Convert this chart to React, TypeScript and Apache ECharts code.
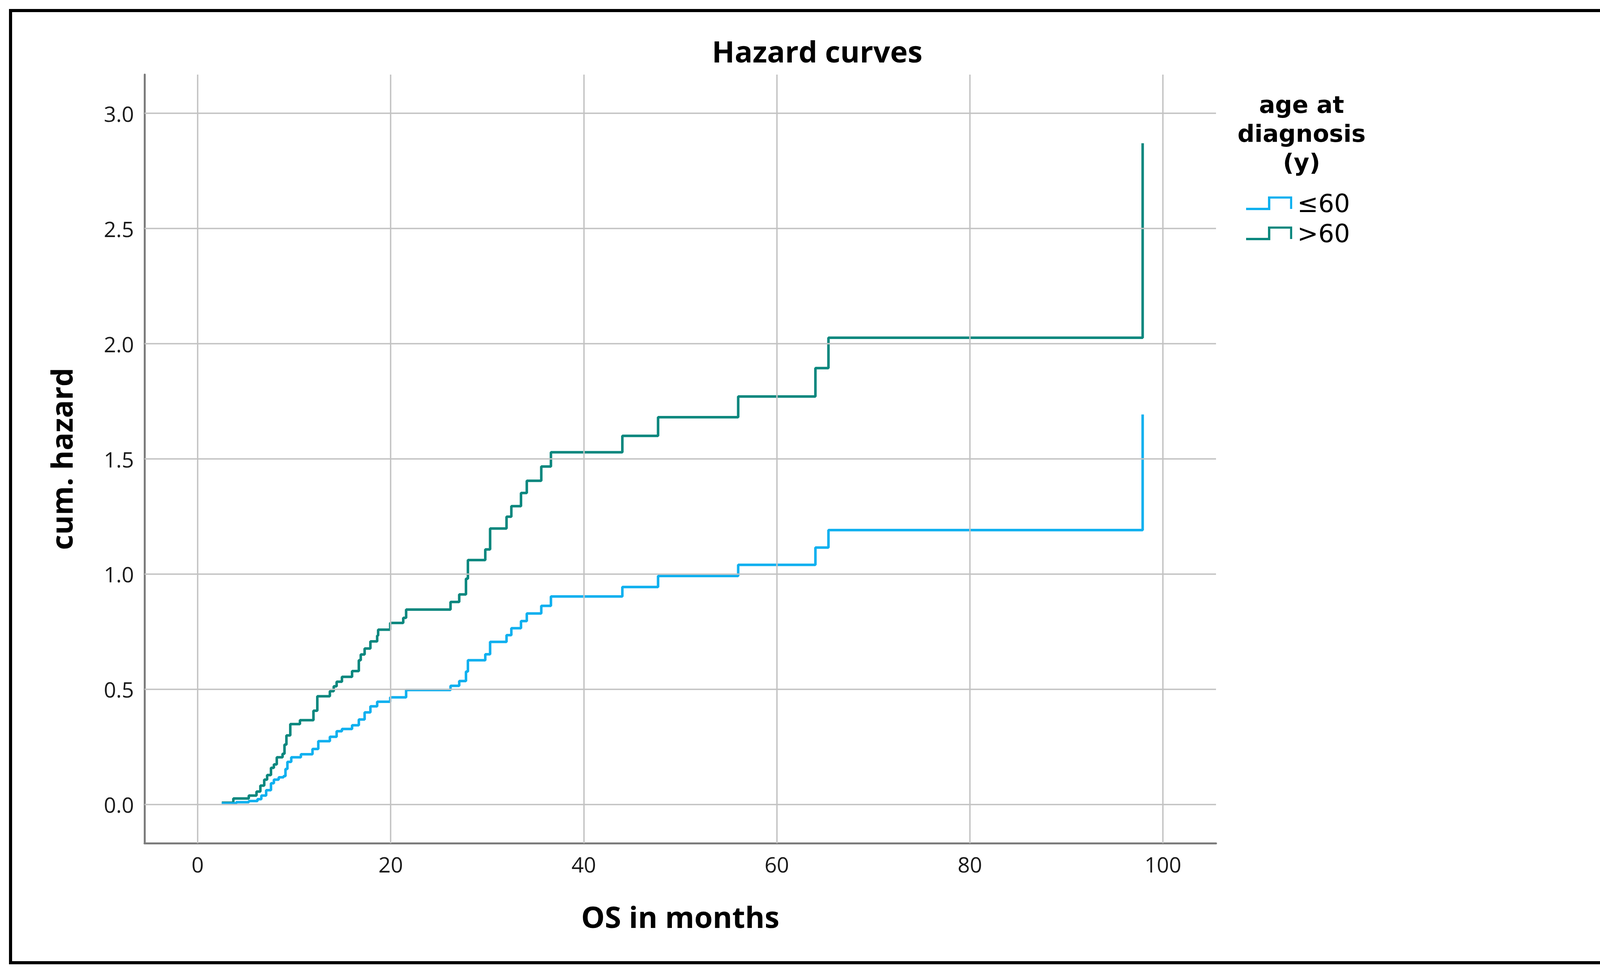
import React, { useEffect, useRef } from "react";
import * as echarts from "echarts";

// ---- data ----
const youngTimes = [2.5, 4.0, 5.3, 6.2, 6.6, 7.1, 7.6, 7.9, 8.4, 8.9, 9.1, 9.3, 9.7, 10.7, 11.9, 12.5, 13.7, 14.4, 14.95, 16.0, 16.7, 17.3, 17.9, 18.6, 19.95, 21.6, 26.2, 27.1, 27.8, 28.0, 29.8, 30.3, 32.0, 32.5, 33.5, 34.1, 35.6, 36.6, 44.0, 47.7, 56.0, 64.0, 65.35, 97.9];
const youngHazard = [0.005, 0.01, 0.015, 0.023, 0.039, 0.062, 0.092, 0.108, 0.118, 0.123, 0.154, 0.185, 0.205, 0.218, 0.241, 0.275, 0.294, 0.318, 0.328, 0.344, 0.369, 0.4, 0.426, 0.446, 0.465, 0.497, 0.515, 0.536, 0.577, 0.626, 0.652, 0.706, 0.735, 0.765, 0.796, 0.829, 0.862, 0.903, 0.944, 0.992, 1.04, 1.115, 1.191, 1.693];

const oldTimes = [2.5, 3.7, 5.3, 6.1, 6.5, 6.9, 7.2, 7.6, 7.9, 8.2, 8.8, 9.0, 9.2, 9.6, 10.6, 12.0, 12.4, 13.7, 14.1, 14.4, 14.95, 16.0, 16.7, 16.9, 17.3, 17.9, 18.6, 18.7, 19.95, 21.3, 21.6, 26.2, 27.1, 27.8, 28.0, 29.8, 30.3, 32.0, 32.5, 33.5, 34.1, 35.6, 36.6, 44.0, 47.7, 56.0, 64.0, 65.35, 97.9];
const oldHazard = [0.008, 0.026, 0.039, 0.056, 0.082, 0.108, 0.128, 0.159, 0.174, 0.205, 0.22, 0.26, 0.3, 0.349, 0.366, 0.407, 0.47, 0.492, 0.513, 0.533, 0.554, 0.579, 0.626, 0.651, 0.677, 0.708, 0.733, 0.759, 0.788, 0.81, 0.846, 0.879, 0.912, 0.98, 1.061, 1.107, 1.198, 1.249, 1.295, 1.352, 1.405, 1.467, 1.529, 1.6, 1.681, 1.771, 1.894, 2.026, 2.87];

const groupNames = ["≤60", ">60"];
const xTicks = [0, 20, 40, 60, 80, 100];
const yTicks = [0, 0.5, 1.0, 1.5, 2.0, 2.5, 3.0];

const COLOR_YOUNG = "#0fb0ef";
const COLOR_OLD = "#0a877e";
const FONT = "Open Sans";
const LEGEND_FONT = "DejaVu Sans";

const zip = (xs: number[], ys: number[]) => xs.map((x, i) => [x, ys[i]]);

// legend icon: step shape outline (filled thin polygon)
const STEP_ICON =
  "path://M0,29 L56,29 L56,0 L118,0 L118,32 L112.5,32 L112.5,5.5 L62,5.5 L62,35 L0,35 Z";

export default function App() {
  const ref = useRef<HTMLDivElement>(null);

  useEffect(() => {
    if (!ref.current) return;
    const chart = echarts.init(ref.current, null, { renderer: "svg" });

    const gridLines = [
      ...xTicks.map((v) => ({ xAxis: v })),
      ...yTicks.map((v) => ({ yAxis: v })),
    ];

    const option: any = {
      animation: false,
      backgroundColor: "#ffffff",
      textStyle: { fontFamily: FONT },
      title: [
        {
          text: "Hazard curves",
          left: 2092,
          top: 92,
          padding: 0,
          textAlign: "center",
          textStyle: {
            fontFamily: FONT,
            fontWeight: "bold",
            fontSize: 76,
            lineHeight: 76,
            color: "#000",
          },
        },
        {
          text: "age at\ndiagnosis\n(y)",
          left: 3332,
          top: 230,
          padding: 0,
          textAlign: "center",
          textStyle: {
            fontFamily: LEGEND_FONT,
            fontWeight: "bold",
            fontSize: 61,
            lineHeight: 74,
            color: "#000",
          },
        },
      ],
      legend: {
        orient: "vertical",
        left: 3190,
        top: 484,
        padding: 0,
        itemGap: 4,
        itemWidth: 118,
        itemHeight: 35,
        icon: STEP_ICON,
        data: groupNames,
        textStyle: {
          fontFamily: LEGEND_FONT,
          fontSize: 64,
          lineHeight: 73,
          color: "#000",
          padding: [0, 0, 0, 8],
        },
      },
      grid: {
        left: 370,
        top: 191,
        width: 2743,
        height: 1968,
        containLabel: false,
      },
      xAxis: {
        type: "value",
        min: -5.5,
        max: 105.5,
        name: "OS in months",
        nameLocation: "middle",
        nameGap: 149,
        nameTextStyle: {
          fontFamily: FONT,
          fontWeight: "bold",
          fontSize: 76,
          lineHeight: 76,
          color: "#000",
        },
        axisLine: { show: true, onZero: false, lineStyle: { color: "#7c7c7c", width: 5 } },
        axisTick: { show: false },
        splitLine: { show: false },
        axisLabel: {
          customValues: xTicks,
          margin: 26,
          fontFamily: FONT,
          fontSize: 55,
          color: "#1a1a1a",
        },
      },
      yAxis: {
        type: "value",
        min: -0.168,
        max: 3.168,
        name: "cum. hazard",
        nameLocation: "middle",
        nameRotate: 90,
        nameGap: 176,
        nameTextStyle: {
          fontFamily: FONT,
          fontWeight: "bold",
          fontSize: 76,
          lineHeight: 76,
          color: "#000",
        },
        axisLine: { show: true, onZero: false, lineStyle: { color: "#7c7c7c", width: 5 } },
        axisTick: { show: false },
        splitLine: { show: false },
        axisLabel: {
          customValues: yTicks,
          margin: 27,
          fontFamily: FONT,
          fontSize: 55,
          color: "#1a1a1a",
          formatter: (v: number) => v.toFixed(1),
        },
      },
      graphic: [
        {
          type: "rect",
          shape: { x: 27, y: 27, width: 4121, height: 2438 },
          style: { fill: "none", stroke: "#000", lineWidth: 8 },
          silent: true,
          z: 100,
        },
      ],
      series: [
        {
          name: "grid",
          type: "line",
          data: [],
          silent: true,
          z: 1,
          markLine: {
            silent: true,
            symbol: ["none", "none"],
            label: { show: false },
            lineStyle: { color: "#c2c2c2", width: 3.5, type: "solid" },
            emphasis: { disabled: true },
            data: gridLines,
          },
        },
        {
          name: groupNames[1],
          type: "line",
          step: "end",
          showSymbol: false,
          symbol: "none",
          z: 3,
          color: COLOR_OLD,
          lineStyle: { color: COLOR_OLD, width: 6.5 },
          data: zip(oldTimes, oldHazard),
        },
        {
          name: groupNames[0],
          type: "line",
          step: "end",
          showSymbol: false,
          symbol: "none",
          z: 4,
          color: COLOR_YOUNG,
          lineStyle: { color: COLOR_YOUNG, width: 6.5 },
          data: zip(youngTimes, youngHazard),
        },
      ],
    };

    chart.setOption(option);
    return () => chart.dispose();
  }, []);

  return (
    <div
      ref={ref}
      style={{ position: "fixed", left: 0, top: 0, width: "4179px", height: "2499px", background: "#fff" }}
    />
  );
}
